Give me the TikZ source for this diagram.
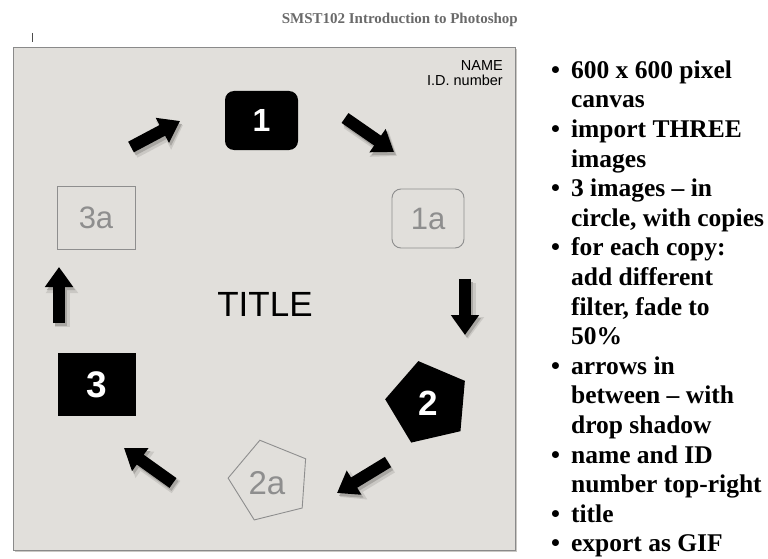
\documentclass[tikz,border=0pt]{standalone}
\usepackage{fontspec}
\setmainfont{Liberation Serif}
\newfontfamily\arialf{Liberation Sans}
\usetikzlibrary{shapes.geometric,arrows.meta}
\definecolor{canvasbg}{HTML}{E1DFDB}
\definecolor{edgegray}{HTML}{8A8A8A}
\definecolor{copygray}{HTML}{8E8E8E}
\definecolor{headgray}{HTML}{6A6A6A}
\definecolor{shadeA}{HTML}{CAC8C4}
\definecolor{shadeB}{HTML}{A8A6A2}
\begin{document}
\begin{tikzpicture}[x=1pt,y=-1pt,
  blockarrow/.style={line width=12pt, black, -{Triangle[width=27pt,length=20pt]}},
  shadeouter/.style={line width=15pt, shadeA, -{Triangle[width=31pt,length=22pt]}},
  shadeinner/.style={line width=12pt, shadeB, -{Triangle[width=27pt,length=20pt]}},
  mainimg/.style={fill=black, text=white, inner sep=0pt, font=\arialf\bfseries},
  copyimg/.style={draw=copygray, line width=0.9pt, text=copygray, inner sep=0pt, font=\arialf},
  pent/.style={regular polygon, regular polygon sides=5, inner sep=0pt}]
\useasboundingbox (0,0) rectangle (768,559);
\fill[white] (0,0) rectangle (768,559);

% canvas
\fill[shadeA] (15,49) rectangle (517,552);
\node[draw=edgegray, line width=0.9pt, fill=canvasbg, minimum width=502pt, minimum height=503pt, inner sep=0pt, anchor=north west] (canvas) at (13,47) {};

% header
\node[anchor=base east, inner sep=0pt, text=headgray, font=\bfseries\fontsize{15}{18}\selectfont] (hdr) at (518,24) {SMST102 Introduction to Photoshop};
\draw[line width=1pt, black!70] (32,33) -- (32,42);

% name
\node[anchor=base east, inner sep=0pt, font=\arialf\fontsize{14.5}{17}\selectfont] (name) at (503,71) {NAME};
\node[anchor=base east, inner sep=0pt, font=\arialf\fontsize{14.5}{17}\selectfont] (idn) at (503,86) {I.D. number};

% title
\node[inner sep=0pt, font=\arialf\fontsize{35}{40}\selectfont] (title) at (265,304.5) {TITLE};

% images
\node[mainimg, rounded corners=9pt, minimum width=73pt, minimum height=59pt, font=\arialf\bfseries\fontsize{32}{36}\selectfont] (img1) at (261.5,120.5) {1};
\node[copyimg, rounded corners=9pt, minimum width=72pt, minimum height=59pt, font=\arialf\fontsize{31}{36}\selectfont] (img1a) at (428,218.5) {1a};
\node[copyimg, minimum width=78pt, minimum height=63pt, font=\arialf\fontsize{31}{36}\selectfont] (img3a) at (96,217.5) {3a};
\node[mainimg, minimum width=78pt, minimum height=63pt, font=\arialf\bfseries\fontsize{37}{40}\selectfont] (img3) at (97,384.5) {3};
\node[pent, mainimg, minimum size=86pt, shape border rotate=13, font=\arialf\bfseries\fontsize{35}{40}\selectfont] (img2) at (428,403) {2};
\node[pent, copyimg, minimum size=84pt, shape border rotate=14, font=\arialf\fontsize{33}{38}\selectfont] (img2a) at (270,481) {};
\node[inner sep=0pt, text=copygray, font=\arialf\fontsize{33}{38}\selectfont] (lbl2a) at (267,483) {2a};

% arrow end points
\coordinate (t1) at (131,147); \coordinate (h1) at (180,121);
\coordinate (t2) at (345,118); \coordinate (h2) at (394,152);
\coordinate (t3) at (465,279); \coordinate (h3) at (465,335);
\coordinate (t4) at (388,462); \coordinate (h4) at (337,493);
\coordinate (t5) at (173,483); \coordinate (h5) at (124,448);
\coordinate (t6) at (59,323);  \coordinate (h6) at (59,267);

\foreach \i in {1,...,6}{
  \draw[shadeouter] ([shift={(3,4)}]t\i) -- ([shift={(3,4)}]h\i);
  \draw[shadeinner] ([shift={(2,3)}]t\i) -- ([shift={(2,3)}]h\i);
}
\foreach \i in {1,...,6}{
  \draw[blockarrow] (t\i) -- (h\i);
}

% bullet list
\node[anchor=north west, inner sep=0pt, font=\bfseries\fontsize{25.5}{29.6}\selectfont] (list) at (551,57.3) {%
\begin{tabular}{@{}l@{\hspace{11pt}}l@{}}
\textbullet & 600 x 600 pixel\\
 & canvas\\
\textbullet & import THREE\\
 & images\\
\textbullet & 3 images -- in\\
 & circle, with copies\\
\textbullet & for each copy:\\
 & add different\\
 & filter, fade to\\
 & 50\%\\
\textbullet & arrows in\\
 & between -- with\\
 & drop shadow\\
\textbullet & name and ID\\
 & number top-right\\
\textbullet & title\\
\textbullet & export as GIF
\end{tabular}};
\end{tikzpicture}
\end{document}
